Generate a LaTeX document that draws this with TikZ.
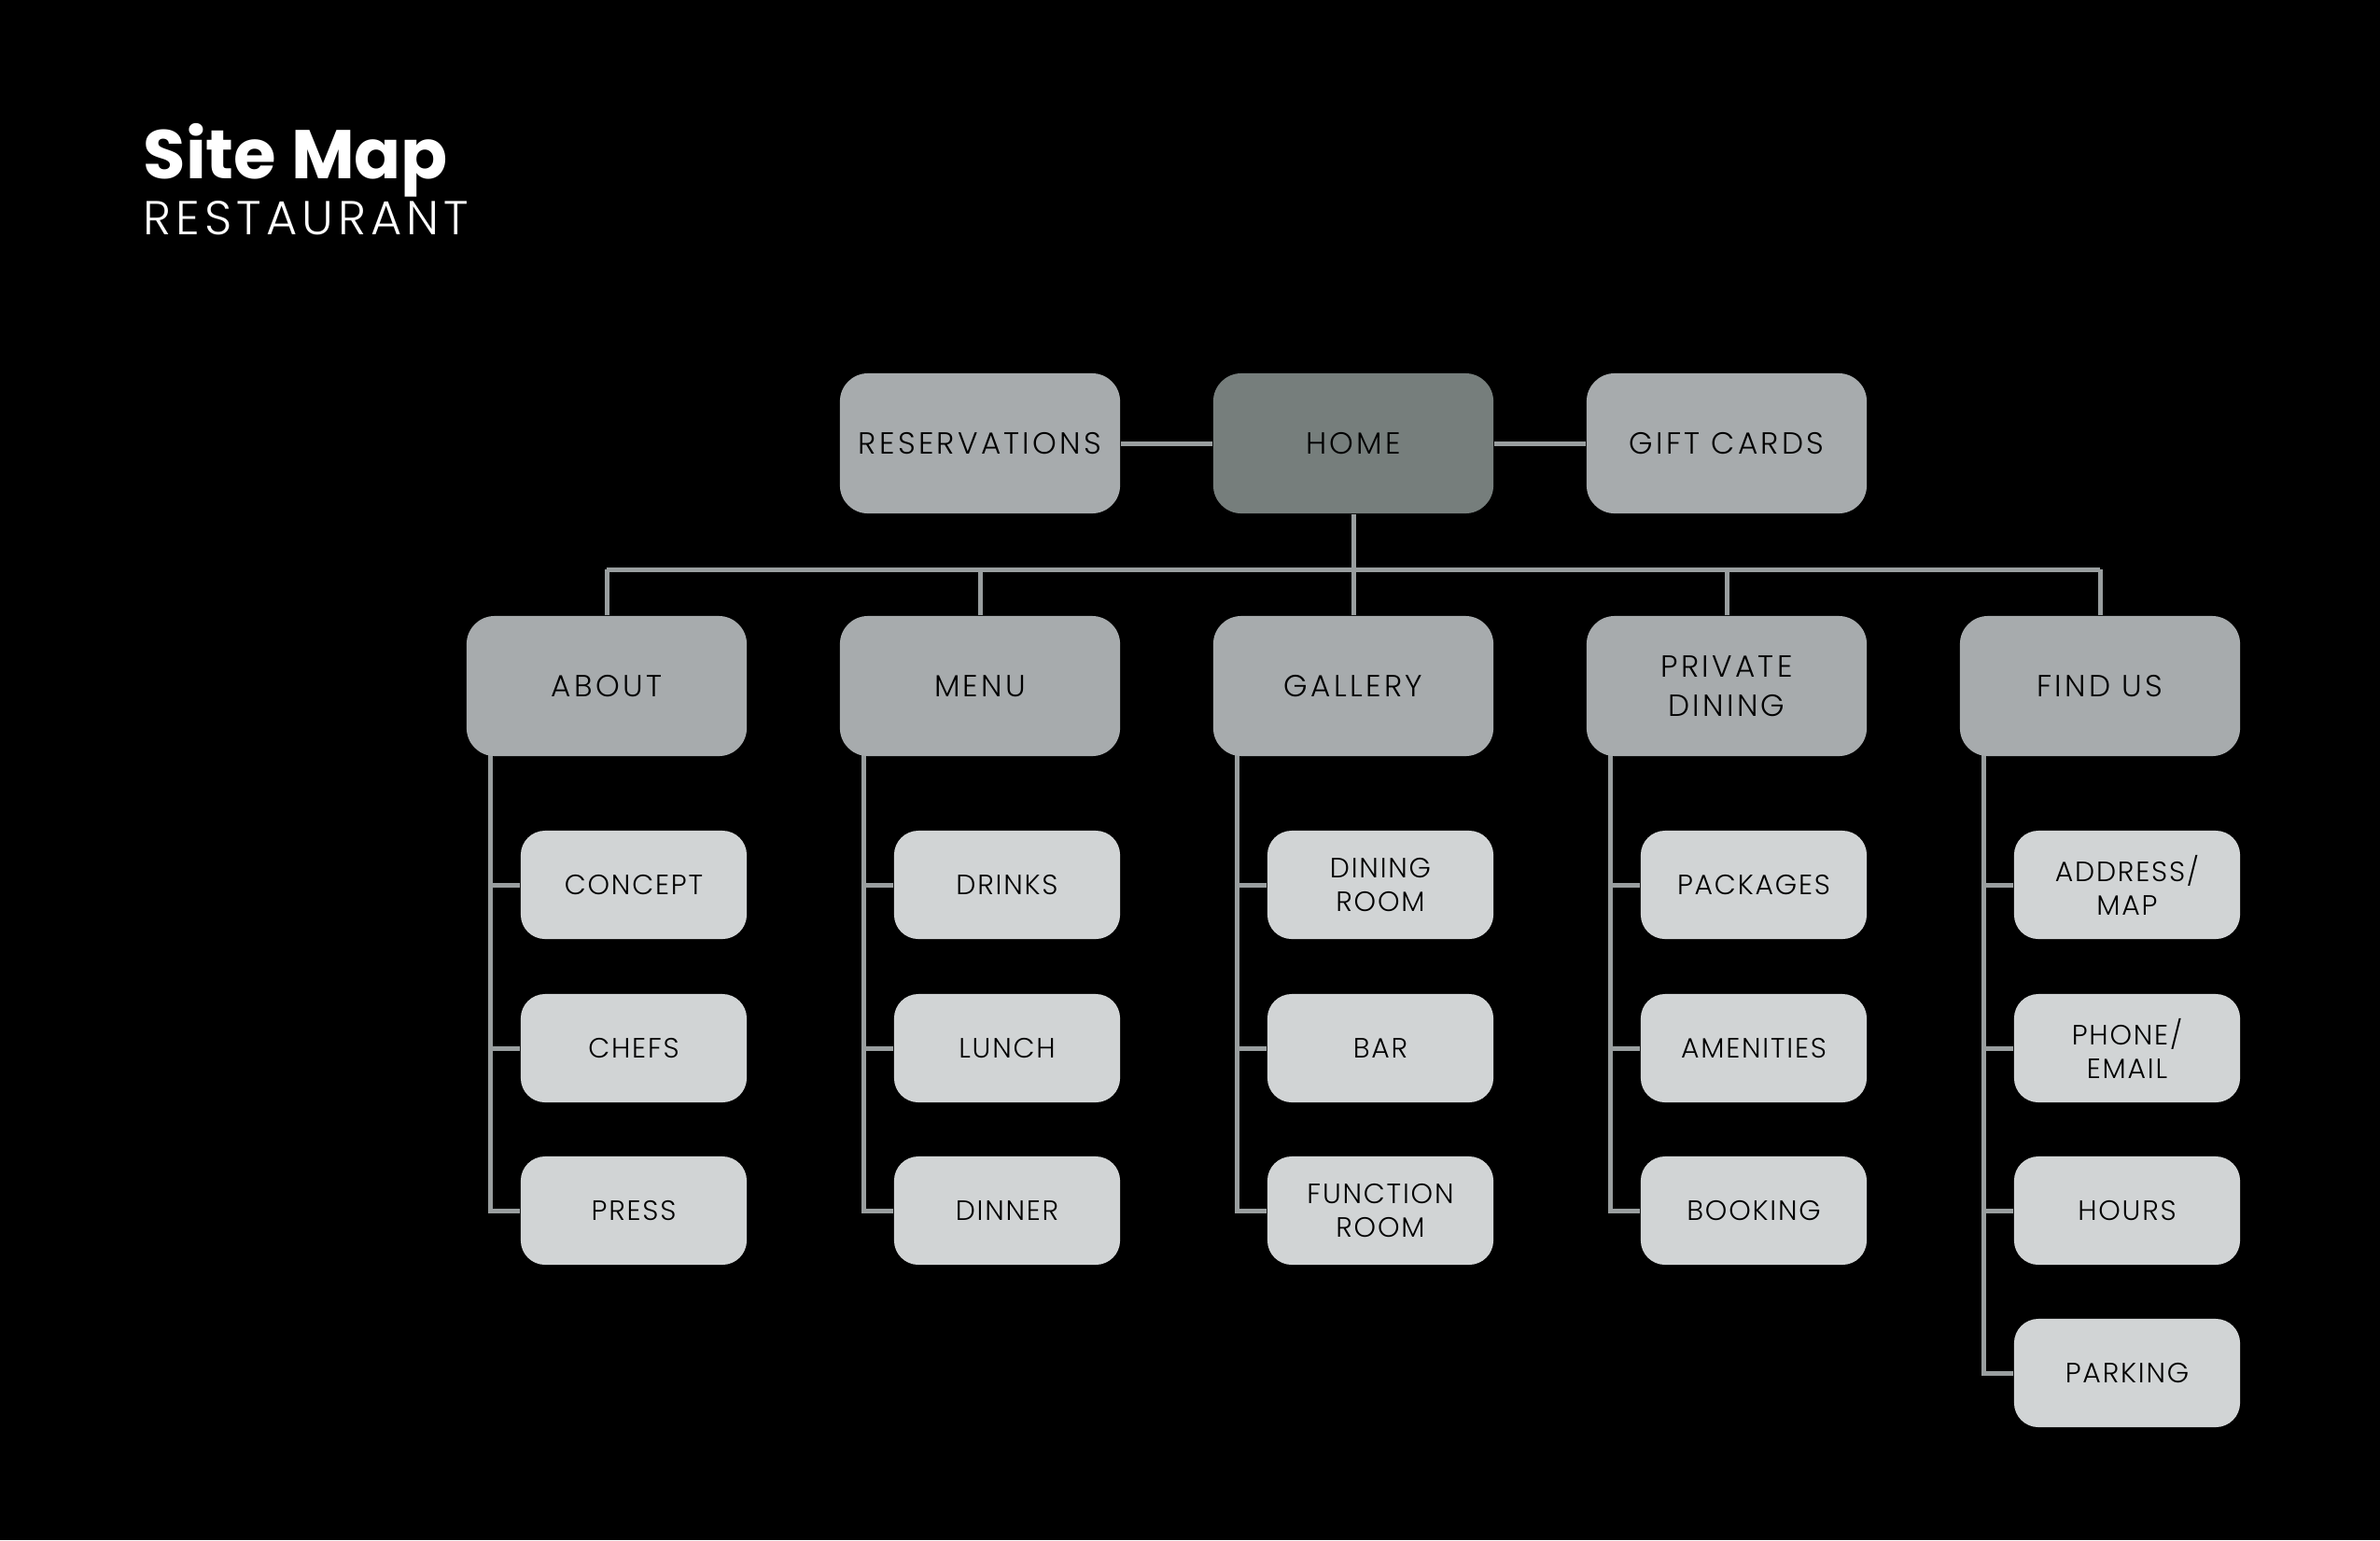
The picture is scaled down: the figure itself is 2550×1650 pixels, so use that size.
\documentclass[tikz,border=0pt]{standalone}
\usepackage{fontspec}
\setmainfont{Poppins}
\newfontfamily\boxfont{Poppins Light}[LetterSpace=10]
\newfontfamily\childfont{Poppins Light}[LetterSpace=6]
\newfontfamily\subfont{Poppins Light}[LetterSpace=10]
\usetikzlibrary{calc}

\definecolor{pagebg}{HTML}{000000}
\definecolor{parentgray}{HTML}{A7ABAD}
\definecolor{homegray}{HTML}{767E7C}
\definecolor{childgray}{HTML}{D1D4D5}
\definecolor{linegray}{HTML}{999E9F}

\pgfdeclarelayer{back}
\pgfdeclarelayer{wires}
\pgfsetlayers{back,wires,main}

\tikzset{
  parentbox/.style={rectangle, rounded corners=0.3cm, fill=parentgray,
    minimum width=3cm, minimum height=1.5cm, inner sep=0pt, align=center,
    text=black, font=\boxfont\fontsize{9.3}{11.8}\selectfont},
  childbox/.style={rectangle, rounded corners=0.26cm, fill=childgray,
    minimum width=2.42cm, minimum height=1.16cm, inner sep=0pt, align=center,
    text=black, font=\childfont\fontsize{8.5}{10.2}\selectfont},
  link/.style={draw=linegray, line width=0.05cm},
}

\begin{document}
\begin{tikzpicture}[x=0.01cm, y=-0.01cm]
\begin{pgfonlayer}{back}
  \fill[pagebg] (0,0) rectangle (2550,1650);
\end{pgfonlayer}
\useasboundingbox (0,0) rectangle (2550,1650);

% heading
\node[anchor=base west, inner sep=0pt, text=white,
  font=\fontsize{21}{24}\selectfont\bfseries] (title) at (153,191) {Site Map};
\node[anchor=base west, inner sep=0pt, text=white,
  font=\subfont\fontsize{14.5}{16}\selectfont] (subtitle) at (153,251) {RESTAURANT};

% top row
\node[parentbox] (res)  at (1050,475) {RESERVATIONS};
\node[parentbox, fill=homegray] (home) at (1450,475) {HOME};
\node[parentbox] (gift) at (1850,475) {GIFT CARDS};

% main sections
\node[parentbox] (about)   at (650,735)  {ABOUT};
\node[parentbox] (menu)    at (1050,735) {MENU};
\node[parentbox] (gallery) at (1450,735) {GALLERY};
\node[parentbox] (private) at (1850,735) {PRIVATE\\DINING};
\node[parentbox] (findus)  at (2250,735) {FIND US};

% sub pages
\node[childbox] (concept)  at (679,948)   {CONCEPT};
\node[childbox] (chefs)    at (679,1123)  {CHEFS};
\node[childbox] (press)    at (679,1297)  {PRESS};

\node[childbox] (drinks)   at (1079,948)  {DRINKS};
\node[childbox] (lunch)    at (1079,1123) {LUNCH};
\node[childbox] (dinner)   at (1079,1297) {DINNER};

\node[childbox] (dining)   at (1479,948)  {DINING\\ROOM};
\node[childbox] (bar)      at (1479,1123) {BAR};
\node[childbox] (function) at (1479,1297) {FUNCTION\\ROOM};

\node[childbox] (packages)  at (1879,948)  {PACKAGES};
\node[childbox] (amenities) at (1879,1123) {AMENITIES};
\node[childbox] (booking)   at (1879,1297) {BOOKING};

\node[childbox] (address) at (2279,948)  {ADDRESS/\\MAP};
\node[childbox] (phone)   at (2279,1123) {PHONE/\\EMAIL};
\node[childbox] (hours)   at (2279,1297) {HOURS};
\node[childbox] (parking) at (2279,1471) {PARKING};

% connectors
\coordinate (busL) at (650,610);
\coordinate (busR) at (2250,610);
\begin{pgfonlayer}{wires}
  \draw[link] (res) -- (home);
  \draw[link] (home) -- (gift);
  \draw[link] (home.south) -- (home.south |- busL);
  \draw[link] (busL) -- (busR);
  \foreach \p in {about,menu,gallery,private,findus}
    \draw[link] (\p.north) -- (\p.north |- busL);

  \foreach \p/\c in {about/concept, about/chefs, about/press,
                     menu/drinks, menu/lunch, menu/dinner,
                     gallery/dining, gallery/bar, gallery/function,
                     private/packages, private/amenities, private/booking,
                     findus/address, findus/phone, findus/hours, findus/parking}
    \draw[link] ([xshift=0.26cm, yshift=0.2cm]\p.south west) |- (\c.west);
\end{pgfonlayer}
\end{tikzpicture}
\end{document}
